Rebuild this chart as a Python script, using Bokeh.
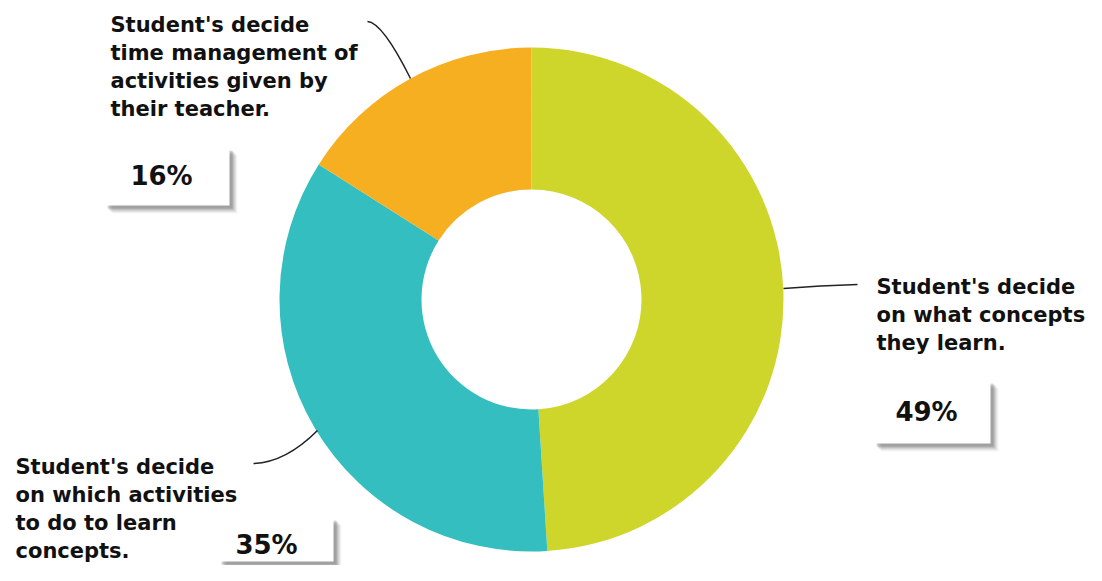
from bokeh.plotting import figure
from bokeh.models import Range1d, ColumnDataSource
from bokeh.core.properties import value
from bokeh.embed import file_html
from bokeh.resources import INLINE
import math

# ---- data ----
categories = [
    "Student's decide\non what concepts\nthey learn.",
    "Student's decide\non which activities\nto do to learn\nconcepts.",
    "Student's decide\ntime management of\nactivities given by\ntheir teacher.",
]
values = [49, 35, 16]
pct_labels = ["49%", "35%", "16%"]
colors = ["#CFD62B", "#35BEBF", "#F6AF20"]

# ---- layout (screen px -> data: x = px, y = 581 - py) ----
W, H = 1086, 565
def Y(py):
    return 581 - py

cx, cy = 531, Y(299)
r_out, r_in = 252, 110

p = figure(width=W, height=H, x_range=Range1d(0, W), y_range=Range1d(581 - H, 581),
           output_backend="svg", toolbar_location=None, min_border=0)
p.axis.visible = False
p.grid.visible = False
p.outline_line_color = None
p.background_fill_color = "white"

total = sum(values)
starts, ends = [], []
acc = 0.0
for v in values:
    starts.append(math.radians(90 - acc / total * 360))
    acc += v
    ends.append(math.radians(90 - acc / total * 360))

src = ColumnDataSource(dict(start=starts, end=ends, color=colors))
p.annular_wedge(x=cx, y=cy, inner_radius=r_in, outer_radius=r_out,
                start_angle="start", end_angle="end",
                direction="clock", fill_color="color", line_color=None, source=src)

# ---- label text (left x, first line center y in px) ----
label_pos = [(876, 286), (15, 466), (110, 24)]
line_gap = 28.3
for txt, (lx, ly) in zip(categories, label_pos):
    lines = txt.split("\n")
    p.text(x=[lx] * len(lines), y=[Y(ly + i * line_gap) for i in range(len(lines))],
           text=lines, text_font=value("DejaVu Sans"), text_font_style="bold",
           text_font_size="21px", text_baseline="middle", text_align="left",
           text_color="#111111")

# ---- percentage boxes with shadow ----
boxes = [(873, 380, 990, 443), (218, 517, 333, 561), (104, 147, 229, 205)]
pct_centers = [(926, 411), (266, 544), (161, 175)]
for (l, t, r, b), lab, (tx, ty) in zip(boxes, pct_labels, pct_centers):
    for k, a in zip([8, 7, 6, 5, 4, 3], [0.05, 0.07, 0.1, 0.13, 0.17, 0.2]):
        p.quad(left=l + k, right=r + k, top=Y(t + k), bottom=Y(b + k),
               fill_color="#555555", fill_alpha=a, line_color=None)
    p.quad(left=l, right=r, top=Y(t), bottom=Y(b), fill_color="white", line_color=None)
    p.text(x=[tx], y=[Y(ty)], text=[lab],
           text_font=value("DejaVu Sans"), text_font_style="bold",
           text_font_size="26px", text_baseline="middle", text_align="center",
           text_color="#111111")

# ---- leader lines (quadratic curves: start, control, end) ----
leaders = [
    ((783, 288), (820, 285), (857, 284)),
    ((253, 463), (285, 462), (317, 430)),
    ((367, 21), (382, 22), (410, 78)),
]
for (x0, y0), (xc, yc), (x1, y1) in leaders:
    p.quadratic(x0=x0, y0=Y(y0), cx=xc, cy=Y(yc), x1=x1, y1=Y(y1),
                line_color="#222222", line_width=1.5)

open("out.html", "w").write(file_html(p, INLINE))
